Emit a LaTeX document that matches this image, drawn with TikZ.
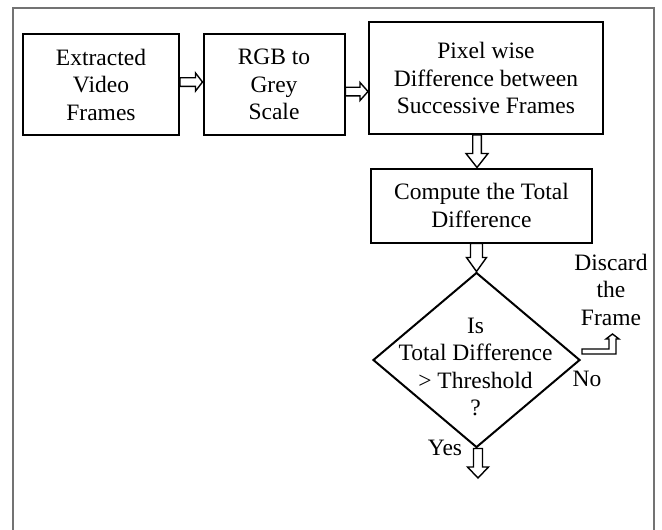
\documentclass[tikz,border=0pt]{standalone}
\usepackage{fontspec}
\setmainfont{Liberation Serif}
\usetikzlibrary{calc,shapes.geometric}

% hollow block arrow pointing right: start point, tip point, shaft half width, head half width, head length
\newcommand{\blockright}[5]{%
  \draw[blkarrow] let \p1=#1, \p2=#2 in
    (\x1,\y1+#3) -- (\x2-#5,\y1+#3) -- (\x2-#5,\y1+#4) -- (\x2,\y1)
    -- (\x2-#5,\y1-#4) -- (\x2-#5,\y1-#3) -- (\x1,\y1-#3) -- cycle;}
% hollow block arrow pointing down: start point, tip point, shaft half width, head half width, head length
\newcommand{\blockdown}[5]{%
  \draw[blkarrow] let \p1=#1, \p2=#2 in
    (\x1-#3,\y1) -- (\x1-#3,\y2+#5) -- (\x1-#4,\y2+#5) -- (\x1,\y2)
    -- (\x1+#4,\y2+#5) -- (\x1+#3,\y2+#5) -- (\x1+#3,\y1) -- cycle;}

\begin{document}
\begin{tikzpicture}[x=1pt,y=-1pt,
  txt/.style={font=\fontsize{23.5}{27.5}\selectfont, align=center, inner sep=0pt},
  stepbox/.style={txt, draw, line width=2pt, rectangle},
  decbox/.style={draw, line width=2pt, diamond, inner sep=0pt},
  blkarrow/.style={draw, line width=1.4pt, fill=white, line join=miter},
  frameline/.style={draw=black!55, line width=1.6pt}]

\useasboundingbox (0,0) rectangle (662,530);
\fill[white] (0,0) rectangle (662,530);

% surrounding frame (open at the bottom)
\draw[frameline] (13,530) -- (13,8) -- (654,8) -- (654,530);

% process boxes
\node[stepbox, minimum width=156pt, minimum height=101pt] (b1) at (101,84.5)
  {Extracted\\Video\\Frames};
\node[stepbox, minimum width=141pt, minimum height=101pt] (b2) at (274,84.5)
  {RGB to\\Grey\\Scale};
\node[stepbox, minimum width=234pt, minimum height=112pt] (b3) at (486,78)
  {Pixel wise\\Difference between\\Successive Frames};
\node[stepbox, minimum width=221pt, minimum height=74pt] (b4) at (481.5,205.5)
  {Compute the Total\\Difference};

% decision
\node[decbox, minimum width=207pt, minimum height=175pt] (dec) at (476.5,360) {};
\node[txt] (dect) at (475.5,367) {Is\\Total Difference\\> Threshold\\?};

% side labels
\node[txt] (disc) at (611,289.5) {Discard\\the\\Frame};
\node[txt] (no) at (587,379) {No};
\node[txt] (yes) at (445,448) {Yes};

\coordinate (yesend) at (478,478);
\coordinate (discend) at (612.5,334);

% connectors
\blockright{([yshift=2.5pt]b1.east)}{(b2.west)}{4.3pt}{9pt}{7pt}
\blockright{([yshift=-7pt]b2.east)}{(b3.west)}{4.3pt}{9pt}{8pt}
\blockdown{([xshift=-9pt]b3.south)}{(b4.north)}{4.3pt}{11pt}{14pt}
\blockdown{([xshift=-5pt]b4.south)}{(dec.north)}{6pt}{10pt}{14pt}
\blockdown{([xshift=1.5pt]dec.south)}{(yesend)}{4.5pt}{10.5pt}{11pt}

% bent arrow towards the discard label
\draw[blkarrow] let \p1=([shift={(1pt,8.5pt)}]dec.east), \p2=(discend) in
  (\x1,\y1+2.5pt) -- (\x2-3.5pt,\y1+2.5pt) -- (\x2-3.5pt,\y2-5pt) -- (\x2-6.5pt,\y2-5pt)
  -- (\x2,\y2) -- (\x2+6.5pt,\y2-5pt) -- (\x2+3.5pt,\y2-5pt) -- (\x2+3.5pt,\y1-2.5pt)
  -- (\x1,\y1-2.5pt) -- cycle;

\end{tikzpicture}
\end{document}
